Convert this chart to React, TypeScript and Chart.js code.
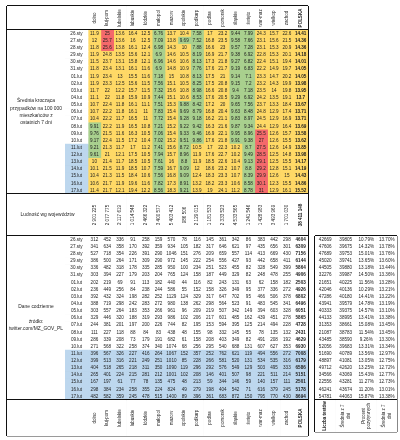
import React, { useEffect, useRef } from 'react';
import { Chart, registerables } from 'chart.js';

Chart.register(...registerables);

// ---------------- DATA ----------------
const REGIONS = ['dolno', 'kuj-pom', 'lubelskie', 'lubuskie', 'łódzkie', 'małopol', 'mazow', 'opolskie', 'podkarp', 'podlas', 'pomorsk', 'śląskie', 'święto', 'war-maz', 'wielkop', 'zachod', 'POLSKA'];
const DATES = ['26.sty', '27.sty', '28.sty', '29.sty', '30.sty', '31.sty', '01.lut', '02.lut', '03.lut', '04.lut', '05.lut', '06.lut', '07.lut', '08.lut', '09.lut', '10.lut', '11.lut', '12.lut', '13.lut', '14.lut', '15.lut', '16.lut', '17.lut'];
const HIGHLIGHT_FROM = '11.lut';

// 7-day moving average of cases per 100 000 inhabitants
const AVG_DOLNO = [11.9, 12, 11.8, 11.9, 11.5, 11.8, 11.9, 11.9, 11.7, 11.1, 10.7, 10.7, 10.4, 9.91, 9.76, 9.17, 9.21, 9.61, 10, 10.1, 10.4, 10.6, 11.4];
const AVG_KUJPOM = [25, 25.7, 25.6, 24.8, 23.7, 23.4, 23.4, 23.3, 22, 22, 22.4, 22.2, 22.2, 22.2, 21.5, 22.4, 21.3, 21, 21.4, 21.5, 21.3, 21.7, 21.7];
const AVG_LUBEL = [13.6, 13.6, 13.8, 13.5, 13.1, 13.1, 13, 12.5, 12.2, 11.8, 11.8, 11.8, 11.7, 11.9, 11.6, 11.5, 11.7, 12.1, 11.7, 11.9, 11.5, 11.9, 12.1];
const AVG_LUBUS = [16.4, 16, 16.1, 15.6, 15.8, 16.1, 15.5, 15.6, 15.7, 15.9, 16.1, 16.1, 16.5, 16.5, 16.3, 17.2, 17, 17.5, 18.5, 18.5, 18.4, 19.6, 19.4];
const AVG_LODZ = [12.5, 12.5, 12.4, 12.1, 12.1, 11.6, 11.6, 11.5, 11.5, 10.9, 11.1, 11, 11, 10.8, 10.5, 10.4, 11.2, 10.5, 10.5, 10.7, 10.6, 11.6, 12.2];
const AVG_MALOP = [6.76, 7.09, 6.98, 6.9, 6.96, 6.9, 7.18, 7.56, 7.32, 7.44, 7.51, 7.83, 7.72, 7.21, 7.06, 7.02, 7.41, 7.94, 7.61, 7.59, 7.56, 7.82, 8.56];
const AVG_MAZOW = [13.7, 13.8, 14.3, 14.6, 14.6, 14.8, 15, 15.1, 15.6, 15.1, 15.3, 15.4, 15.4, 15.2, 15.4, 15.2, 15.6, 15.7, 16, 16.7, 16.8, 17.3, 18.3];
const AVG_OPOL = [10.4, 9.69, 10, 10.5, 10.6, 10.9, 10.8, 10.5, 10.8, 10.6, 9.88, 9.69, 9.28, 9.22, 9.33, 9.51, 8.72, 8.96, 8.8, 9.09, 9.09, 8.91, 9.21];
const AVG_PODKARP = [7.58, 7.52, 7.88, 8.19, 8.13, 7.76, 8.13, 8.25, 8.98, 8.53, 8.42, 8.79, 9.18, 9.42, 9.46, 9.86, 10.5, 11.9, 11.9, 12, 12.4, 13.2, 13.9];
const AVG_PODLAS = [17, 16.8, 16.6, 16.9, 17.3, 17.6, 17.5, 17.5, 16.6, 17.6, 17.2, 16.8, 16.2, 16.3, 16.9, 17.6, 17, 17.6, 18.5, 18.6, 18.3, 18.2, 19];
const AVG_POMOR = [23.2, 23.5, 23, 21.7, 21.8, 21.7, 21, 20.8, 20.8, 20.5, 20, 20.4, 21.1, 21.6, 22.1, 21.8, 22.3, 22.7, 22.6, 23.2, 23.3, 23.3, 24.1];
const AVG_SLASK = [9.44, 9.58, 9.57, 9.38, 9.27, 9.19, 9.14, 9.15, 9.4, 9.29, 9.65, 9.63, 9.83, 9.87, 9.95, 9.91, 10.2, 10.2, 10.4, 10.7, 10.7, 10.6, 11.2];
const AVG_SWIETO = [7.99, 7.66, 7.28, 6.92, 6.82, 6.83, 7.1, 7.2, 7.18, 6.92, 7.56, 8.48, 8.97, 9.34, 8.96, 9.38, 8.7, 9.49, 9.13, 8.8, 8.39, 8.58, 8.78];
const AVG_WARMAZ = [24.3, 23.1, 23.1, 22.8, 22.4, 22.2, 23.3, 23.2, 23.5, 24.2, 23.7, 24.8, 24.5, 24.4, 25.5, 27, 27.5, 28.5, 29.1, 29.2, 29.9, 30.1, 31];
const AVG_WIELK = [15.7, 15.6, 15.3, 15.3, 15.1, 14.9, 14.7, 14.3, 14, 13.5, 13.3, 12.9, 12.9, 12.9, 12.6, 12.6, 12.6, 12.5, 12.5, 12.8, 12.6, 12.3, 12.9];
const AVG_ZACH = [22.6, 21.5, 20.9, 20.1, 19.4, 19.7, 20.2, 19.9, 19.8, 19.1, 18.4, 17.4, 16.9, 16.4, 15.7, 15.5, 14.9, 14.8, 15.5, 15.1, 15, 15.5, 16.1];
const AVG_POLSKA = [14.41, 14.36, 14.36, 14.18, 14.01, 14.05, 14.05, 13.98, 13.95, 13.7, 13.67, 13.71, 13.71, 13.69, 13.58, 13.62, 13.85, 13.98, 14.17, 14.19, 14.43, 14.86, 15.52];
const AVG_BY_REGION = [AVG_DOLNO, AVG_KUJPOM, AVG_LUBEL, AVG_LUBUS, AVG_LODZ, AVG_MALOP, AVG_MAZOW, AVG_OPOL, AVG_PODKARP, AVG_PODLAS, AVG_POMOR, AVG_SLASK, AVG_SWIETO, AVG_WARMAZ, AVG_WIELK, AVG_ZACH, AVG_POLSKA];

const POPULATION = [2901225, 2077775, 2117619, 1014548, 2466322, 3400577, 5403412, 986506, 2129015, 1181533, 2333523, 4533565, 1241546, 1428983, 3493969, 1701030, 38411148];

// daily new cases
const CASES_DOLNO = [312, 341, 527, 386, 336, 303, 202, 236, 392, 388, 303, 329, 244, 111, 286, 271, 396, 399, 404, 265, 167, 298, 482];
const CASES_KUJPOM = [452, 634, 718, 500, 482, 394, 219, 449, 432, 719, 557, 446, 381, 227, 339, 568, 567, 513, 518, 401, 197, 384, 582];
const CASES_LUBEL = [336, 358, 354, 264, 318, 227, 69, 256, 324, 298, 264, 320, 201, 118, 208, 322, 326, 316, 265, 224, 61, 234, 359];
const CASES_LUBUS = [91, 170, 226, 171, 178, 179, 91, 84, 198, 242, 183, 188, 197, 88, 73, 258, 227, 221, 218, 215, 77, 258, 245];
const CASES_LODZ = [258, 392, 391, 309, 335, 203, 113, 238, 282, 283, 353, 319, 200, 84, 179, 374, 416, 249, 311, 281, 78, 355, 478];
const CASES_MALOP = [159, 359, 290, 290, 285, 204, 182, 244, 252, 272, 266, 293, 226, 83, 191, 340, 264, 251, 350, 212, 135, 224, 515];
const CASES_MAZOW = [570, 934, 1046, 972, 950, 765, 440, 586, 1129, 980, 961, 986, 744, 438, 682, 1074, 1067, 1010, 1090, 1001, 475, 824, 1400];
const CASES_OPOL = [78, 105, 151, 145, 100, 124, 44, 55, 124, 138, 96, 102, 82, 48, 61, 68, 152, 85, 119, 102, 48, 49, 89];
const CASES_PODKARP = [116, 182, 276, 222, 234, 158, 116, 152, 329, 262, 209, 206, 195, 155, 158, 256, 357, 228, 296, 208, 213, 279, 396];
const CASES_PODLAS = [145, 317, 209, 254, 251, 187, 82, 158, 317, 298, 219, 217, 153, 98, 208, 295, 252, 266, 292, 146, 59, 198, 361];
const CASES_POMOR = [361, 646, 659, 556, 523, 449, 243, 326, 647, 564, 507, 601, 594, 332, 403, 540, 762, 581, 576, 401, 344, 404, 683];
const CASES_SLASK = [342, 621, 557, 427, 455, 329, 131, 349, 702, 523, 342, 485, 395, 145, 349, 688, 621, 520, 549, 507, 146, 542, 872];
const CASES_SWIETO = [86, 97, 114, 93, 82, 82, 63, 95, 95, 91, 149, 162, 125, 55, 82, 131, 119, 131, 129, 98, 59, 71, 150];
const CASES_WARMAZ = [383, 435, 413, 442, 328, 248, 62, 377, 466, 483, 394, 439, 214, 78, 491, 607, 494, 534, 503, 221, 140, 616, 795];
const CASES_WIELK = [442, 656, 669, 658, 549, 478, 158, 336, 506, 545, 603, 451, 494, 135, 208, 627, 556, 535, 495, 511, 157, 379, 770];
const CASES_ZACH = [298, 301, 430, 411, 399, 255, 182, 272, 378, 341, 328, 278, 228, 132, 192, 353, 272, 316, 333, 214, 111, 245, 430];
const CASES_POLSKA = [4604, 6309, 7156, 6144, 5864, 4906, 2503, 4926, 6802, 6496, 6051, 5865, 4728, 2431, 4629, 6930, 7008, 6179, 6586, 5151, 2501, 5178, 8694];
const CASES_BY_REGION = [CASES_DOLNO, CASES_KUJPOM, CASES_LUBEL, CASES_LUBUS, CASES_LODZ, CASES_MALOP, CASES_MAZOW, CASES_OPOL, CASES_PODKARP, CASES_PODLAS, CASES_POMOR, CASES_SLASK, CASES_SWIETO, CASES_WARMAZ, CASES_WIELK, CASES_ZACH, CASES_POLSKA];

// tests
const TESTS = [42669, 47606, 47689, 45020, 44505, 32276, 21651, 42046, 47286, 43941, 40333, 44133, 31353, 21087, 43485, 52056, 51690, 48897, 49712, 34566, 22556, 46241, 54781];
const TESTS_AVG7 = [39805, 39675, 39753, 39741, 39880, 39987, 40225, 40136, 40180, 39579, 39375, 38995, 38661, 38783, 38590, 39683, 40789, 41081, 42620, 43069, 43281, 43674, 44063];
const POSITIVE_PCT = [10.79, 14.32, 15.01, 13.65, 13.18, 14.5, 11.56, 10.29, 14.41, 14.78, 14.57, 13.41, 15.08, 11.54, 9.26, 13.31, 13.56, 13.05, 13.25, 15.43, 11.27, 11.2, 15.87];
const POSITIVE_PCT_AVG7 = [13.7, 13.78, 13.76, 13.6, 13.44, 13.36, 13.28, 13.21, 13.22, 13.19, 13.1, 13.38, 13.45, 13.45, 13.3, 13.34, 12.97, 12.75, 12.72, 12.77, 12.73, 13.01, 13.38];

const TEST_HEADERS = [['Liczba testów'], ['Średnia z 7', 'dni'], ['Procent', 'pozytywnych'], ['Średnia z 7', 'dni']];
const LABEL_AVG = ['Średnia krocząca', 'przypadków na 100 000', 'mieszkańców z', 'ostatnich 7 dni'];
const LABEL_POP = ['Ludność wg województw'];
const LABEL_DAILY = ['Dane codzienne', '', 'źródło:', 'twitter.com/MZ_GOV_PL'];

// ---------------- STYLE / LAYOUT ----------------
const FONT = "'Liberation Sans', Arial, sans-serif";
const TEXT = '#1e1e1e';
const GRID = '#9a9a9a';
const DARK = '#111111';
const WHITE = '#ffffff';
const BLUE = '#BDD7EE';
const GREEN = '#A9D08E';
const YELLOW = '#FFD966';
const RED = '#F4696B';
const heatColor = (v: number) => (v >= 25 ? RED : v >= 10 ? YELLOW : GREEN);

const PAD = 3;
const T_LEFT = 7;
const LABEL_R = 65;
const DATE_R = 88;
const REG_R = 293.3;
const T_RIGHT = 308;
const REG_EDGES = [...REGIONS.slice(0, 16).map((_, i) => DATE_R + ((REG_R - DATE_R) * i) / 16), REG_R, T_RIGHT];
const MAIN_EDGES = [T_LEFT, ...REG_EDGES];
const DATA_EDGES = [LABEL_R, ...REG_EDGES];
const R_LEFT = 315;
const R_RIGHT = 397;
const R_EDGES = TEST_HEADERS.map((_, i) => R_LEFT + ((R_RIGHT - R_LEFT) * i) / TEST_HEADERS.length).concat([R_RIGHT]);

const NUM = 4.6;
const HDR = 4.5;
const LBL = 4.9;

type Cell = { lines: string[]; bg: string; bold?: boolean; rot?: boolean; size?: number; lh?: number };
type BandSpec = {
  x0: number; x1: number; y0: number; y1: number;
  edges: number[]; rows: string[];
  cell: (r: number, c: number) => Cell;
  thickX: number[]; thick: number;
};

const hiIndex = DATES.indexOf(HIGHLIGHT_FROM);
const fmtThousands = (n: number) => String(n).replace(/\B(?=(\d{3})+(?!\d))/g, ' ');
const isPolska = (c: number) => REGIONS[c] === 'POLSKA';

const headerCell = (r: number, c: number): Cell =>
  c === 0 ? { lines: [], bg: WHITE } : { lines: [REGIONS[c - 1]], bg: WHITE, rot: true, bold: isPolska(c - 1), size: HDR };

const BANDS: BandSpec[] = [
  // top header
  { x0: T_LEFT, x1: T_RIGHT, y0: 6, y1: 30, edges: MAIN_EDGES, rows: [''], cell: headerCell, thickX: [T_LEFT, DATE_R, T_RIGHT], thick: 2 },
  // section 1 label
  { x0: T_LEFT, x1: LABEL_R, y0: 30, y1: 194, edges: [T_LEFT, LABEL_R], rows: [''], cell: () => ({ lines: LABEL_AVG, bg: WHITE, size: LBL, lh: 7.3 }), thickX: [T_LEFT], thick: 2 },
  // section 1 data
  {
    x0: LABEL_R, x1: T_RIGHT, y0: 30, y1: 194, edges: DATA_EDGES, rows: DATES,
    cell: (r, c) => c === 0
      ? { lines: [DATES[r]], bg: r >= hiIndex ? BLUE : WHITE, size: NUM }
      : { lines: [String(AVG_BY_REGION[c - 1][r])], bg: heatColor(AVG_BY_REGION[c - 1][r]), bold: isPolska(c - 1), size: NUM },
    thickX: [DATE_R, T_RIGHT], thick: 2,
  },
  // population
  {
    x0: T_LEFT, x1: T_RIGHT, y0: 194, y1: 236, edges: MAIN_EDGES, rows: [''],
    cell: (r, c) => c === 0
      ? { lines: LABEL_POP, bg: WHITE, size: LBL }
      : { lines: [fmtThousands(POPULATION[c - 1])], bg: WHITE, rot: true, bold: isPolska(c - 1), size: NUM },
    thickX: [T_LEFT, DATE_R, T_RIGHT], thick: 2,
  },
  // section 2 label
  { x0: T_LEFT, x1: LABEL_R, y0: 236, y1: 400, edges: [T_LEFT, LABEL_R], rows: [''], cell: () => ({ lines: LABEL_DAILY, bg: WHITE, size: LBL, lh: 7.3 }), thickX: [T_LEFT], thick: 2 },
  // section 2 data
  {
    x0: LABEL_R, x1: T_RIGHT, y0: 236, y1: 400, edges: DATA_EDGES, rows: DATES,
    cell: (r, c) => c === 0
      ? { lines: [DATES[r]], bg: r >= hiIndex ? BLUE : WHITE, size: NUM }
      : { lines: [String(CASES_BY_REGION[c - 1][r])], bg: r >= hiIndex ? BLUE : WHITE, bold: isPolska(c - 1), size: NUM },
    thickX: [DATE_R, T_RIGHT], thick: 2,
  },
  // bottom header
  { x0: T_LEFT, x1: T_RIGHT, y0: 400, y1: 436, edges: MAIN_EDGES, rows: [''], cell: headerCell, thickX: [T_LEFT, DATE_R, T_RIGHT], thick: 2 },
  // tests table
  {
    x0: R_LEFT, x1: R_RIGHT, y0: 236, y1: 400, edges: R_EDGES, rows: DATES,
    cell: (r, c) => {
      const txt = c === 0 ? String(TESTS[r]) : c === 1 ? String(TESTS_AVG7[r]) : c === 2 ? POSITIVE_PCT[r].toFixed(2) + '%' : POSITIVE_PCT_AVG7[r].toFixed(2) + '%';
      return { lines: [txt], bg: WHITE, size: NUM };
    },
    thickX: [R_LEFT, R_RIGHT], thick: 1.5,
  },
  {
    x0: R_LEFT, x1: R_RIGHT, y0: 400, y1: 432, edges: R_EDGES, rows: [''],
    cell: (r, c) => ({ lines: TEST_HEADERS[c], bg: WHITE, rot: true, bold: c === 0, size: HDR, lh: 5.2 }),
    thickX: [R_LEFT, R_RIGHT], thick: 1.5,
  },
];

const cellTextPlugin = {
  id: 'cellText',
  afterDraw(chart: any) {
    const ctx = chart.ctx;
    chart.data.datasets.forEach((ds: any, di: number) => {
      const meta = chart.getDatasetMeta(di);
      meta.data.forEach((el: any, ri: number) => {
        const cell: Cell = ds.cells[ri];
        if (!cell || !cell.lines.length) return;
        const cx = (el.x + el.base) / 2;
        const cy = el.y;
        ctx.save();
        ctx.translate(cx, cy);
        if (cell.rot) ctx.rotate(-Math.PI / 2);
        ctx.font = `${cell.bold ? 'bold ' : ''}${cell.size || NUM}px ${FONT}`;
        ctx.fillStyle = TEXT;
        ctx.textAlign = 'center';
        ctx.textBaseline = 'middle';
        const n = cell.lines.length;
        const lh = cell.lh || 6;
        cell.lines.forEach((ln, k) => ctx.fillText(ln, 0, (k - (n - 1) / 2) * lh));
        ctx.restore();
      });
    });
  },
};

function buildConfig(spec: BandSpec): any {
  const nCols = spec.edges.length - 1;
  const isThick = (v: number | undefined) => v !== undefined && spec.thickX.some((t) => Math.abs(t - v) < 0.01);
  const datasets = Array.from({ length: nCols }, (_, c) => {
    const cells = spec.rows.map((_, r) => spec.cell(r, c));
    return {
      data: spec.rows.map(() => [spec.edges[c], spec.edges[c + 1]]),
      backgroundColor: cells.map((cl) => cl.bg),
      cells,
      borderWidth: 0,
      barPercentage: 1,
      categoryPercentage: 1,
      grouped: false,
    };
  });
  const nRows = spec.rows.length;
  return {
    type: 'bar',
    data: { labels: spec.rows, datasets },
    plugins: [cellTextPlugin],
    options: {
      indexAxis: 'y',
      responsive: false,
      maintainAspectRatio: false,
      animation: false,
      events: [],
      layout: { padding: PAD },
      plugins: { legend: { display: false }, tooltip: { enabled: false }, title: { display: false } },
      scales: {
        x: {
          type: 'linear', min: spec.x0, max: spec.x1, bounds: 'data', z: 1,
          afterBuildTicks: (axis: any) => { axis.ticks = spec.edges.map((v) => ({ value: v })); },
          ticks: { display: false },
          border: { display: false },
          grid: {
            drawTicks: false,
            color: (ctx: any) => (isThick(ctx.tick?.value) ? DARK : GRID),
            lineWidth: (ctx: any) => (isThick(ctx.tick?.value) ? spec.thick : 1),
          },
        },
        y: {
          type: 'category', offset: true, z: 1,
          ticks: { display: false },
          border: { display: false },
          grid: {
            offset: true, drawTicks: false,
            color: (ctx: any) => (ctx.index === 0 || ctx.index === nRows ? DARK : GRID),
            lineWidth: (ctx: any) => (ctx.index === 0 || ctx.index === nRows ? spec.thick : 1),
          },
        },
      },
    },
  };
}

function Band({ spec }: { spec: BandSpec }) {
  const ref = useRef<HTMLCanvasElement>(null);
  useEffect(() => {
    const chart = new Chart(ref.current as HTMLCanvasElement, buildConfig(spec));
    return () => chart.destroy();
  }, [spec]);
  const w = spec.x1 - spec.x0 + 2 * PAD;
  const h = spec.y1 - spec.y0 + 2 * PAD;
  return (
    <canvas
      ref={ref}
      width={w}
      height={h}
      style={{ position: 'absolute', left: spec.x0 - PAD, top: spec.y0 - PAD, width: w, height: h }}
    />
  );
}

export default function App() {
  return (
    <div style={{ position: 'absolute', left: 0, top: 0, width: 400, height: 440, background: '#ffffff', overflow: 'hidden' }}>
      {BANDS.map((b, i) => (
        <Band key={i} spec={b} />
      ))}
    </div>
  );
}
